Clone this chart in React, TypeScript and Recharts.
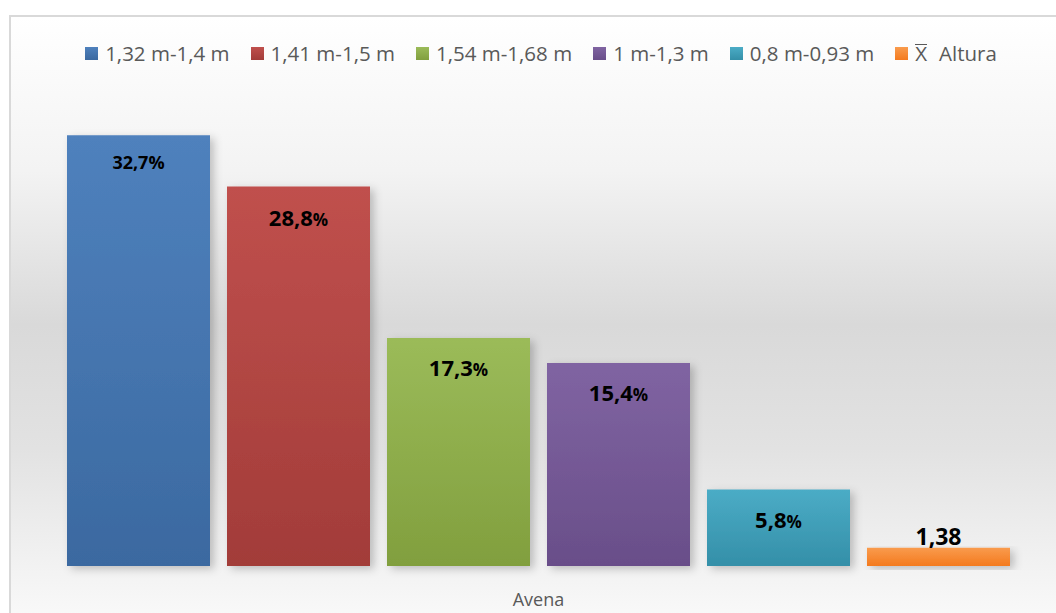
import { BarChart, Bar, XAxis, YAxis, Legend, LabelList } from 'recharts';

// ---- data ----
const categories = ['Avena'];
const seriesNames = ['1,32 m-1,4 m', '1,41 m-1,5 m', '1,54 m-1,68 m', '1 m-1,3 m', '0,8 m-0,93 m', 'Altura'];
const seriesValues = [32.7, 28.8, 17.3, 15.4, 5.8, 1.38];
const seriesIsPercent = [true, true, true, true, true, false];

// ---- styles ----
const COLORS = [
  ['#4f81bd', '#3b69a0'],
  ['#c0504d', '#a23c39'],
  ['#9bbb59', '#819f3e'],
  ['#8064a2', '#694e89'],
  ['#4bacc6', '#348fa8'],
  ['#f99b4d', '#f47a1e'],
];
// per-label font size, "%" size, baseline offset from bar top
const LABEL_STYLE = [
  { size: 18, pct: 18, dy: 34 },
  { size: 22, pct: 17, dy: 39 },
  { size: 22, pct: 17, dy: 38 },
  { size: 22, pct: 17, dy: 38 },
  { size: 22, pct: 17, dy: 38 },
  { size: 23, pct: 17, dy: -3 },
];
const FONT = '"Open Sans", "Noto Sans", sans-serif';

const chartData = categories.map((name) => {
  const row: Record<string, string | number> = { name };
  seriesValues.forEach((v, i) => {
    row[`s${i}`] = v;
  });
  return row;
});

const fmt = (v: number) => String(v).replace('.', ',');

function makeLabel(i: number) {
  return function BarLabel(props: any) {
    const { x, y, width, value } = props;
    const st = LABEL_STYLE[i];
    return (
      <text
        x={x + width / 2}
        y={y + st.dy}
        textAnchor="middle"
        fontFamily={FONT}
        fontWeight={700}
        fontSize={st.size}
        fill="#000"
      >
        {fmt(value)}
        {seriesIsPercent[i] && <tspan fontSize={st.pct}>%</tspan>}
      </text>
    );
  };
}

function AxisTick({ x, y, payload }: any) {
  return (
    <text x={x} y={y + 32} textAnchor="middle" fontFamily={FONT} fontSize={18} fill="#595959">
      {payload.value}
    </text>
  );
}

function LegendContent() {
  return (
    <div
      style={{
        height: 30,
        display: 'flex',
        justifyContent: 'center',
        alignItems: 'center',
        gap: 21,
        fontFamily: FONT,
        fontSize: 20.5,
        color: '#595959',
        paddingLeft: 26,
      }}
    >
      {seriesNames.map((n, i) => (
        <div key={n} style={{ display: 'flex', alignItems: 'center', gap: 7, whiteSpace: 'nowrap' }}>
          <span
            style={{
              width: 13,
              height: 13,
              display: 'inline-block',
              background: `linear-gradient(${COLORS[i][0]}, ${COLORS[i][1]})`,
            }}
          />
          {i === 5 ? (
            <span style={{ display: 'flex', alignItems: 'center' }}>
              <span
                style={{
                  display: 'inline-block',
                  lineHeight: '17px',
                  borderTop: '1.5px solid #595959',
                  marginRight: 12,
                }}
              >
                X
              </span>
              {n}
            </span>
          ) : (
            <span>{n}</span>
          )}
        </div>
      ))}
    </div>
  );
}

export default function App() {
  return (
    <div style={{ position: 'relative', width: 1056, height: 613, overflow: 'hidden' }}>
      <style>{'body{margin:0}'}</style>
      <div
        style={{
          position: 'absolute',
          left: 9,
          top: 15,
          width: 1070,
          height: 620,
          boxSizing: 'border-box',
          border: '2px solid #d9d9d9',
          background: 'linear-gradient(#ffffff 0%, #f3f3f3 25%, #d9d9d9 50%, #e2e2e2 70%, #fbfbfb 100%)',
        }}
      />
      <div style={{ position: 'absolute', left: 0, top: 0 }}>
        <BarChart
          width={1056}
          height={613}
          data={chartData}
          margin={{ top: 9, right: 0, left: 21, bottom: 7 }}
          barGap={17}
          barSize={143}
        >
          <defs>
            {COLORS.map((c, i) => (
              <linearGradient key={i} id={`grad${i}`} x1="0" y1="0" x2="0" y2="1">
                <stop offset="0%" stopColor={c[0]} />
                <stop offset="100%" stopColor={c[1]} />
              </linearGradient>
            ))}
            <filter id="shadow" x="-10%" y="-10%" width="130%" height="130%">
              <feDropShadow dx="4" dy="3" stdDeviation="4" floodColor="#000" floodOpacity="0.22" />
            </filter>
          </defs>
          <XAxis
            dataKey="name"
            axisLine={false}
            tickLine={false}
            height={40}
            tick={<AxisTick />}
            interval={0}
          />
          <YAxis hide domain={[0, 40]} />
          <Legend verticalAlign="top" content={<LegendContent />} wrapperStyle={{ top: 38, left: 0, width: 1056 }} />
          {seriesNames.map((n, i) => (
            <Bar
              key={n}
              dataKey={`s${i}`}
              name={n}
              fill={`url(#grad${i})`}
              filter="url(#shadow)"
              isAnimationActive={false}
            >
              <LabelList dataKey={`s${i}`} content={makeLabel(i)} />
            </Bar>
          ))}
        </BarChart>
      </div>
    </div>
  );
}
